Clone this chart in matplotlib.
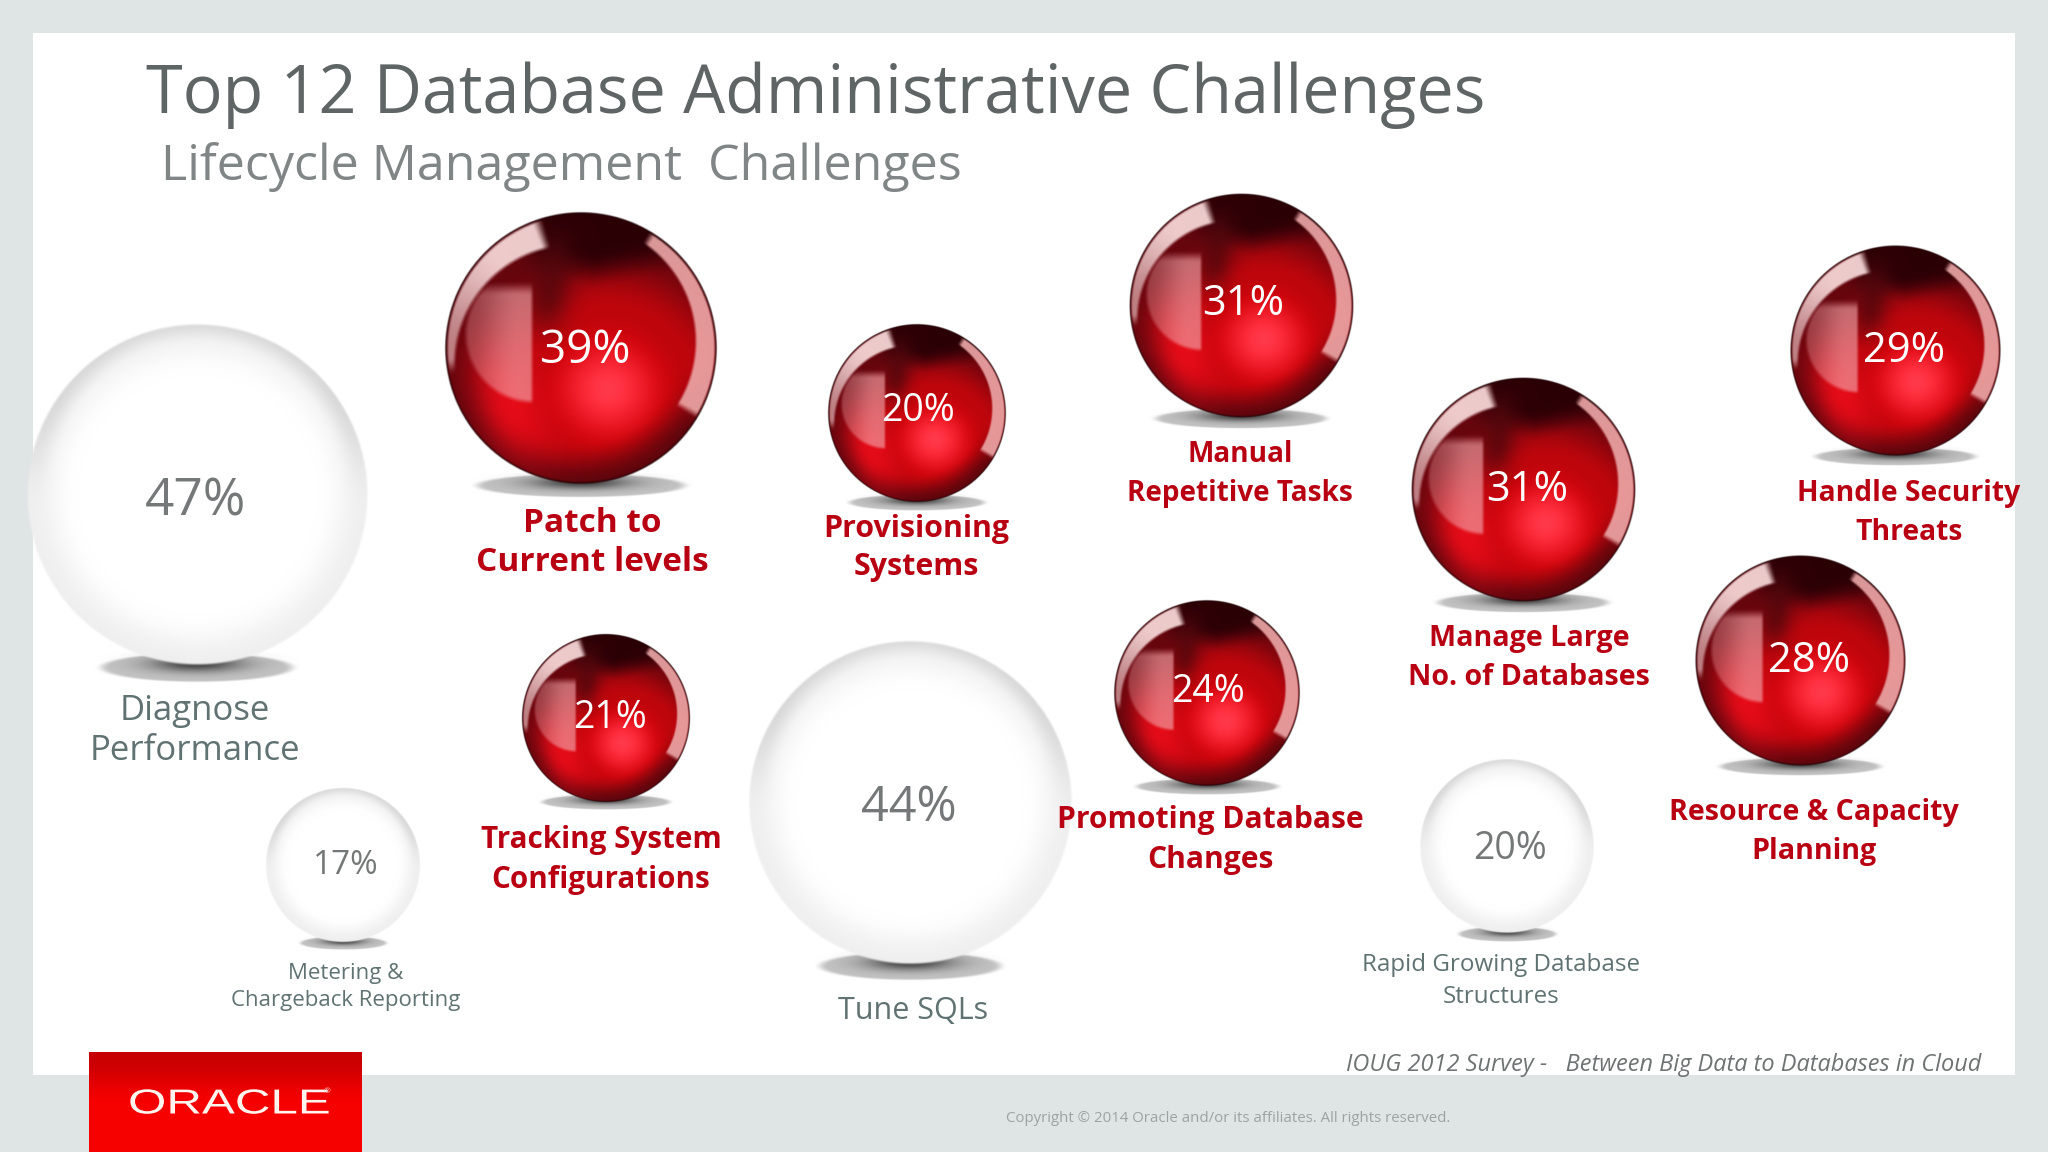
import numpy as np
import matplotlib
matplotlib.use("Agg")
import matplotlib.pyplot as plt
from matplotlib.patheffects import AbstractPathEffect
from matplotlib.transforms import Affine2D

plt.rcParams["font.family"] = ["Open Sans", "DejaVu Sans"]

title = "Top 12 Database Administrative Challenges"
subtitle = "Lifecycle Management  Challenges"
source = "IOUG 2012 Survey -   Between Big Data to Databases in Cloud"
copyright_text = "Copyright © 2014 Oracle and/or its affiliates. All rights reserved."

# the survey results
challenges = [
    "Diagnose\nPerformance", "Patch to\nCurrent levels", "Provisioning\nSystems",
    "Manual\nRepetitive Tasks", "Manage Large\nNo. of Databases", "Handle Security\nThreats",
    "Resource & Capacity\nPlanning", "Promoting Database\nChanges", "Tracking System\nConfigurations",
    "Tune SQLs", "Metering &\nChargeback Reporting", "Rapid Growing Database\nStructures",
]
percent = [47, 39, 20, 31, 31, 29, 28, 24, 21, 44, 17, 20]
lifecycle = [False, True, True, True, True, True, True, True, True, False, False, False]

# layout in pixels, same order as above
sphere_x = [197, 581, 917, 1241, 1523, 1895, 1800, 1207, 606, 910, 343, 1507]
sphere_y = [495, 348, 413, 306, 490, 351, 661, 693, 718, 803, 865, 846]
sphere_r = [171, 136, 89, 112, 112, 105, 105, 93, 84, 162, 77, 87]
pct_x = [196, 585, 918, 1243, 1527, 1904, 1809, 1208, 610, 909, 346, 1510]
pct_y = [502, 351, 411, 304, 490, 351, 661, 692, 718, 808, 866, 849]
pct_size = [37, 33, 27, 30, 30, 30, 30, 27, 27, 35, 24, 27]
label_x = [195, 592, 916, 1240, 1529, 1909, 1814, 1210, 601, 913, 346, 1501]
label_y = [731, 543, 548, 474, 658, 513, 832, 840, 860, 1011, 987, 981]
label_size = [25, 24, 21.9, 20.2, 20.6, 20.3, 20.6, 21.6, 21.3, 22, 16, 17.4]
label_pitch = [41, 41, 41, 41, 41, 41, 41, 41, 41, 41, 31, 33]

BG = "#dfe4e4"
RED_TEXT = "#b80012"


class StretchX(AbstractPathEffect):
    # the logo lettering is much wider than any installed font
    def __init__(self, factor):
        super().__init__()
        self.factor = factor

    def draw_path(self, renderer, gc, tpath, affine, rgbFace=None):
        renderer.draw_path(gc, tpath, Affine2D().scale(self.factor, 1) + affine, rgbFace)


def smooth(a, b, x):
    t = np.clip((x - a) / (b - a), 0, 1)
    return t * t * (3 - 2 * t)


def blend(img, color, alpha):
    for i in range(3):
        img[..., i] = img[..., i] * (1 - alpha) + color[i] * alpha


def sphere_grid(n=500):
    u, v = np.meshgrid(np.linspace(-1.02, 1.02, n), np.linspace(-1.02, 1.02, n))
    rr = np.hypot(u, v)
    ang = np.degrees(np.arctan2(-v, u))
    return u, v, rr, ang


def red_sphere():
    u, v, rr, ang = sphere_grid()
    img = np.zeros(u.shape + (4,))
    hot = np.hypot(u - 0.2, (v - 0.3) / 0.95)
    img[..., 0] = 1.0 - 0.25 * smooth(0.08, 0.6, hot) - 0.35 * smooth(0.6, 1.15, hot)
    img[..., 1] = 0.2 * (1 - smooth(0.0, 0.48, hot)) + 0.02
    img[..., 2] = 0.24 * (1 - smooth(0.0, 0.48, hot)) + 0.05
    # dark cap at the top and a dark streak going down from it
    cap = smooth(-0.42, -0.72, v + 0.2 * np.abs(u - 0.1)) * smooth(-0.55, -0.2, u)
    blend(img, (0.16, 0.0, 0.02), 0.95 * cap)
    band = np.exp(-((u + 0.27 + 0.1 * v) / 0.15) ** 2) * smooth(0.05, -0.4, v) * smooth(-1.0, -0.6, v)
    blend(img, (0.32, 0.03, 0.05), 0.75 * band)
    blend(img, (0.33, 0.02, 0.05), 0.9 * smooth(0.68, 1.0, rr) * smooth(0.0, 0.65, v))
    # bright red on the left lower side
    left = np.exp(-(((u + 0.62 - 0.25 * v) / 0.26) ** 2 + ((v - 0.42) / 0.42) ** 2))
    blend(img, (0.92, 0.05, 0.10), 0.9 * left)
    # pale patch on the left, flat right edge and round bottom
    patch = smooth(0.52, 0.47, np.hypot(u + 0.35, v + 0.1)) * smooth(-0.34, -0.38, u)
    patch = patch * smooth(-0.5, -0.38, v) * (0.55 + 0.45 * smooth(-0.85, -0.45, u))
    blend(img, (0.96, 0.66, 0.68), 0.62 * patch)
    # top left crescent, tapers to the left side
    pos_ang = np.where(ang < 0, ang + 360, ang)
    inner = np.hypot(u + 0.05, v - 0.12)
    crescent = smooth(0.86, 0.9, inner) * smooth(1.0, 0.965, rr) * smooth(106, 112, pos_ang) * smooth(192, 184, pos_ang)
    blend(img, (0.98, 0.86, 0.86), (0.92 - 0.35 * smooth(130, 180, pos_ang)) * crescent)
    # right crescent
    inner = np.hypot(u + 0.03, v + 0.05)
    crescent = smooth(0.86, 0.89, inner) * smooth(1.0, 0.97, rr) * smooth(-32, -28, ang) * smooth(60, 56, ang)
    blend(img, (0.93, 0.66, 0.66), 0.9 * crescent)
    # thin dark outline
    blend(img, (0.12, 0.0, 0.01), 0.9 * smooth(0.975, 1.0, rr))
    img[..., 3] = smooth(1.005, 0.99, rr)
    return img


def white_sphere():
    u, v, rr, ang = sphere_grid()
    img = np.ones(u.shape + (4,))
    shade = 1 - 0.06 * smooth(0.7, 0.98, rr)
    rim = smooth(0.82, 0.96, np.hypot(u, v + 0.06)) * smooth(0.1, -0.6, v)
    shade = shade - 0.09 * rim
    for i in range(3):
        img[..., i] = shade
    img[..., 3] = smooth(1.005, 0.985, rr)
    return img


def shadow():
    u, v = np.meshgrid(np.linspace(-1, 1, 300), np.linspace(-1, 1, 60))
    d = np.hypot(u, v)
    img = np.zeros(u.shape + (4,))
    img[..., :3] = 0.22
    img[..., 3] = 0.3 * smooth(1.0, 0.85, d) + 0.65 * np.exp(-((u / 0.45) ** 2 + ((v + 0.25) / 0.55) ** 2))
    return img


fig = plt.figure(figsize=(20.48, 11.52), dpi=100, facecolor=BG)
ax = fig.add_axes([0, 0, 1, 1])
ax.set_xlim(0, 2048)
ax.set_ylim(1152, 0)
ax.axis("off")

ax.fill_between([33, 2015], 33, 1075, color="white", lw=0, zorder=1)

red_img = red_sphere()
white_img = white_sphere()
shadow_img = shadow()

for i in range(len(percent)):
    x, y, r = sphere_x[i], sphere_y[i], sphere_r[i]
    half = 0.82 if lifecycle[i] else 0.6
    ax.imshow(shadow_img, extent=[x - half * r, x + half * r, y + 1.1 * r, y + 0.92 * r],
              aspect="auto", zorder=2, interpolation="bilinear")
    ax.imshow(red_img if lifecycle[i] else white_img,
              extent=[x - 1.02 * r, x + 1.02 * r, y + 1.02 * r, y - 1.02 * r],
              aspect="auto", zorder=3, interpolation="bilinear")
    ax.text(pct_x[i], pct_y[i], f"{percent[i]}%", ha="center", va="center",
            fontsize=pct_size[i], color="white" if lifecycle[i] else "#757878", zorder=4)
    spacing = label_pitch[i] / (0.98 * label_size[i] * 100 / 72)
    ax.text(label_x[i], label_y[i], challenges[i], ha="center", va="center", multialignment="center",
            fontsize=label_size[i], linespacing=spacing,
            fontweight="bold" if lifecycle[i] else "normal",
            color=RED_TEXT if lifecycle[i] else "#607272", zorder=4)

ax.text(146, 95, title, fontsize=47.9, color="#5f6464", va="center", zorder=4)
ax.text(161, 167, subtitle, fontsize=36.2, color="#808585", va="center", zorder=4)
ax.text(1981, 1065, source, fontsize=16.9, style="italic", color="#6e7373", ha="right", va="center", zorder=4)
ax.text(1228, 1119, copyright_text, fontsize=10.8, color="#9da2a2", ha="center", va="center", zorder=4)

# logo block
grad = np.linspace(0, 1, 100).reshape(-1, 1)
logo = np.zeros((100, 1, 3))
logo[..., 0] = 0.78 + 0.19 * smooth(0, 0.55, grad)
ax.imshow(logo, extent=[89, 362, 1152, 1052], aspect="auto", zorder=5)
ax.text(128, 1104, "ORACLE", fontsize=25, color="#fff4ee", ha="left", va="center",
        family=["Liberation Sans", "DejaVu Sans"], path_effects=[StretchX(1.42)], zorder=6)
ax.text(327, 1092, "®", fontsize=6, color="#f8c8c0", ha="center", va="center", zorder=6)

ax.set_xlim(0, 2048)
ax.set_ylim(1152, 0)
fig.savefig("out.png", dpi=100, facecolor=BG)
